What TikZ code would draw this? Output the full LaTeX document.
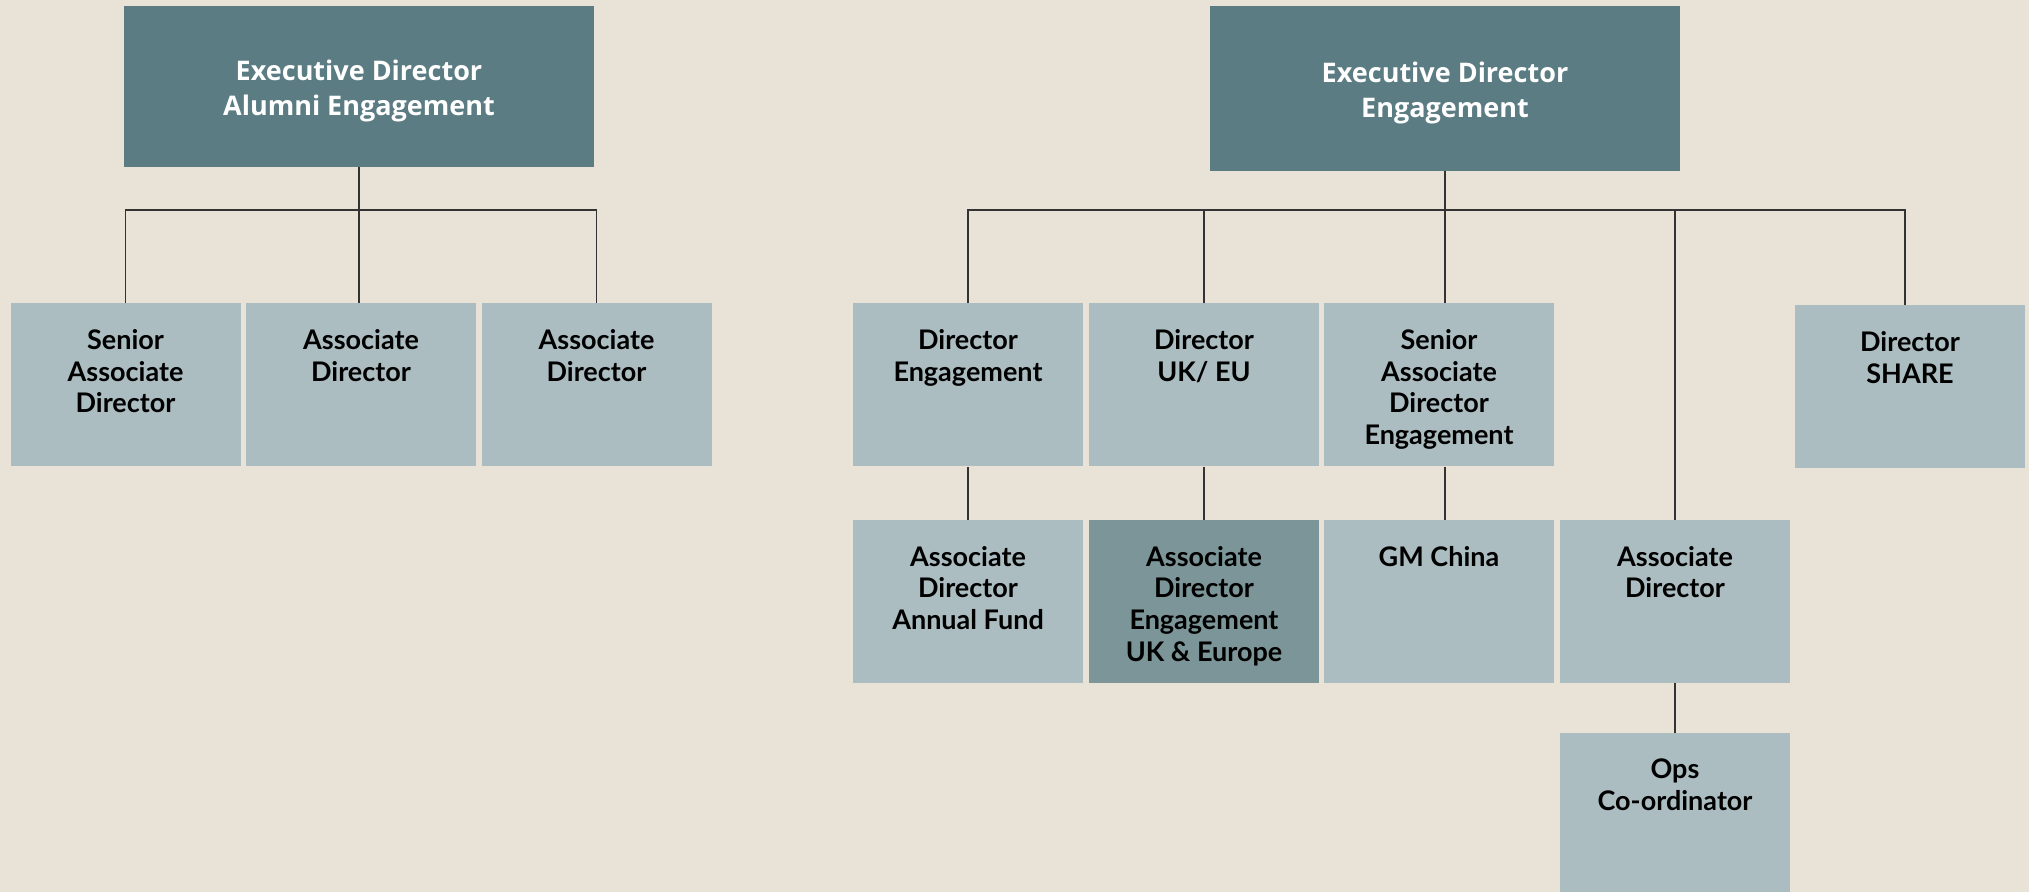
\documentclass[tikz,border=0pt]{standalone}
\usepackage{fontspec}
\setmainfont{Lato}
\newfontfamily\headfont{Open Sans}
\definecolor{paper}{HTML}{E8E2D7}
\definecolor{headfill}{HTML}{5A7C82}
\definecolor{kidfill}{HTML}{ABBDC1}
\definecolor{kiddark}{HTML}{7B9598}
\definecolor{wirecol}{HTML}{333333}
\begin{document}
\begin{tikzpicture}[x=0.5pt,y=-0.5pt,
    head/.style={fill=headfill,minimum width=235pt,minimum height=80.5pt,inner sep=0pt,
      label={[anchor=center,yshift=-2pt,inner sep=0pt,text=white,align=center,
        font=\headfont\bfseries\fontsize{13.5}{17.5}\selectfont]center:#1}},
    kid/.style={fill=kidfill,minimum width=115pt,minimum height=81.5pt,inner sep=0pt,
      label={[anchor=north,yshift=-13pt,inner sep=0pt,align=center,
        font=\bfseries\fontsize{13.5}{15.85}\selectfont]north:#1}},
    darkkid/.style={kid=#1,fill=kiddark,every label/.append style={text=white}},
    wire/.style={draw=wirecol,line width=0.6pt}]
  \path[fill=paper,use as bounding box] (0,0) rectangle (2029,892);
  \coordinate (bus) at (0,210);

  % alumni engagement
  \node[head={Executive Director\\Alumni Engagement}] (eda) at (359,86.5) {};
  \node[kid={Senior\\Associate\\Director}] (sad) at (125.5,385) {};
  \node[kid={Associate\\Director}] (ad1) at (361,385) {};
  \node[kid={Associate\\Director}] (ad2) at (596.5,385) {};
  \draw[wire] (eda.south) -- (eda.south |- ad1.north);
  \draw[wire] (sad.north) |- (ad2.north |- bus) -- (ad2.north);

  % engagement
  \node[head={Executive Director\\Engagement},minimum height=82.5pt] (ed) at (1445,88.5) {};
  \node[kid={Director\\Engagement}] (de) at (968,385) {};
  \node[kid={Director\\UK/ EU}] (duk) at (1204,385) {};
  \node[kid={Senior\\Associate\\Director\\Engagement}] (sade) at (1439,385) {};
  \node[kid={Director\\SHARE}] (ds) at (1910,387) {};
  \node[kid={Associate\\Director\\Annual Fund}] (adaf) at (968,601.5) {};
  \node[darkkid={Associate\\Director\\Engagement\\UK \& Europe}] (adeu) at (1204,601.5) {};
  \node[kid={GM China}] (gm) at (1439,601.5) {};
  \node[kid={Associate\\Director}] (ad4) at (1675,601.5) {};
  \node[kid={Ops\\Co-ordinator}] (ops) at (1675,814.5) {};
  \coordinate (dsin) at ([xshift=-2.5pt]ds.north);

  \draw[wire] (de.north) |- (dsin |- bus) -- (dsin);
  \draw[wire] (ed.south) -- (ed.south |- sade.north);
  \draw[wire] (duk.north) -- (duk.north |- bus);
  \draw[wire] (ad4.north) -- (ad4.north |- bus);
  \draw[wire] (de.south) -- (adaf.north);
  \draw[wire] (duk.south) -- (adeu.north);
  \draw[wire] (sade.south -| ed.south) -- (gm.north -| ed.south);
  \draw[wire] (ad4.south) -- (ops.north);
\end{tikzpicture}
\end{document}
